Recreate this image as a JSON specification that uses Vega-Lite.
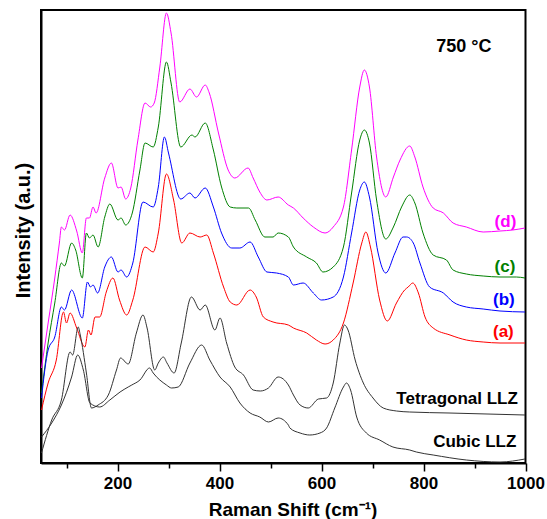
{
  "$schema": "https://vega.github.io/schema/vega-lite/v6.json",
  "width": 484.5,
  "height": 453,
  "autosize": {"type": "none"},
  "padding": {"left": 41, "top": 10, "right": 21.5, "bottom": 56},
  "background": "white",
  "config": {"view": {"stroke": "black", "strokeWidth": 2}, "font": "Liberation Sans"},
  "datasets": {
    "spectra": [
      {"s":"d","x":51,"y":95},{"s":"d","x":64,"y":140},{"s":"d","x":77,"y":185},{"s":"d","x":86,"y":220},{"s":"d","x":90,"y":236},{"s":"d","x":96,"y":233},{"s":"d","x":107,"y":248},{"s":"d","x":120,"y":232},{"s":"d","x":131,"y":210},{"s":"d","x":139,"y":245},{"s":"d","x":145,"y":245},{"s":"d","x":152,"y":256},{"s":"d","x":158,"y":250},{"s":"d","x":175,"y":285},{"s":"d","x":188,"y":300},{"s":"d","x":201,"y":275},{"s":"d","x":207,"y":276},{"s":"d","x":216,"y":264},{"s":"d","x":226,"y":275},{"s":"d","x":240,"y":323},{"s":"d","x":254,"y":360},{"s":"d","x":265,"y":356},{"s":"d","x":272,"y":360},{"s":"d","x":283,"y":396},{"s":"d","x":296,"y":450},{"s":"d","x":305,"y":430},{"s":"d","x":322,"y":361},{"s":"d","x":342,"y":374},{"s":"d","x":355,"y":366},{"s":"d","x":372,"y":378},{"s":"d","x":380,"y":370},{"s":"d","x":398,"y":330},{"s":"d","x":417,"y":293},{"s":"d","x":430,"y":285},{"s":"d","x":456,"y":295},{"s":"d","x":466,"y":285},{"s":"d","x":479,"y":271},{"s":"d","x":493,"y":263},{"s":"d","x":515,"y":266},{"s":"d","x":535,"y":258},{"s":"d","x":545,"y":255},{"s":"d","x":564,"y":245},{"s":"d","x":584,"y":236},{"s":"d","x":607,"y":230},{"s":"d","x":623,"y":236},{"s":"d","x":643,"y":256},{"s":"d","x":659,"y":313},{"s":"d","x":675,"y":376},{"s":"d","x":684,"y":393},{"s":"d","x":694,"y":376},{"s":"d","x":708,"y":306},{"s":"d","x":726,"y":266},{"s":"d","x":741,"y":286},{"s":"d","x":754,"y":303},{"s":"d","x":773,"y":317},{"s":"d","x":783,"y":306},{"s":"d","x":799,"y":276},{"s":"d","x":819,"y":255},{"s":"d","x":839,"y":250},{"s":"d","x":858,"y":240},{"s":"d","x":884,"y":236},{"s":"d","x":917,"y":231},{"s":"d","x":950,"y":232},{"s":"d","x":975,"y":233},{"s":"d","x":999,"y":235},
      {"s":"c","x":51,"y":70},{"s":"c","x":64,"y":120},{"s":"c","x":77,"y":160},{"s":"c","x":90,"y":200},{"s":"c","x":96,"y":197},{"s":"c","x":110,"y":220},{"s":"c","x":118,"y":213},{"s":"c","x":131,"y":185},{"s":"c","x":139,"y":230},{"s":"c","x":145,"y":225},{"s":"c","x":152,"y":228},{"s":"c","x":162,"y":216},{"s":"c","x":175,"y":246},{"s":"c","x":185,"y":259},{"s":"c","x":201,"y":243},{"s":"c","x":207,"y":245},{"s":"c","x":216,"y":238},{"s":"c","x":229,"y":250},{"s":"c","x":244,"y":293},{"s":"c","x":254,"y":320},{"s":"c","x":270,"y":316},{"s":"c","x":280,"y":336},{"s":"c","x":296,"y":401},{"s":"c","x":305,"y":380},{"s":"c","x":324,"y":316},{"s":"c","x":346,"y":328},{"s":"c","x":352,"y":326},{"s":"c","x":372,"y":340},{"s":"c","x":388,"y":313},{"s":"c","x":404,"y":276},{"s":"c","x":421,"y":256},{"s":"c","x":434,"y":255},{"s":"c","x":457,"y":255},{"s":"c","x":470,"y":243},{"s":"c","x":489,"y":226},{"s":"c","x":505,"y":226},{"s":"c","x":515,"y":230},{"s":"c","x":535,"y":226},{"s":"c","x":545,"y":216},{"s":"c","x":571,"y":206},{"s":"c","x":590,"y":200},{"s":"c","x":603,"y":191},{"s":"c","x":623,"y":196},{"s":"c","x":643,"y":216},{"s":"c","x":659,"y":270},{"s":"c","x":675,"y":323},{"s":"c","x":684,"y":333},{"s":"c","x":694,"y":320},{"s":"c","x":708,"y":263},{"s":"c","x":726,"y":224},{"s":"c","x":741,"y":236},{"s":"c","x":757,"y":256},{"s":"c","x":773,"y":268},{"s":"c","x":783,"y":260},{"s":"c","x":799,"y":230},{"s":"c","x":819,"y":208},{"s":"c","x":845,"y":203},{"s":"c","x":858,"y":193},{"s":"c","x":884,"y":189},{"s":"c","x":917,"y":187},{"s":"c","x":950,"y":186},{"s":"c","x":982,"y":186},{"s":"c","x":999,"y":185},
      {"s":"b","x":51,"y":65},{"s":"b","x":64,"y":113},{"s":"b","x":77,"y":126},{"s":"b","x":90,"y":156},{"s":"b","x":96,"y":153},{"s":"b","x":110,"y":173},{"s":"b","x":131,"y":145},{"s":"b","x":141,"y":181},{"s":"b","x":147,"y":176},{"s":"b","x":152,"y":178},{"s":"b","x":161,"y":170},{"s":"b","x":175,"y":196},{"s":"b","x":188,"y":206},{"s":"b","x":201,"y":191},{"s":"b","x":207,"y":193},{"s":"b","x":218,"y":186},{"s":"b","x":230,"y":200},{"s":"b","x":250,"y":261},{"s":"b","x":270,"y":256},{"s":"b","x":280,"y":276},{"s":"b","x":292,"y":326},{"s":"b","x":300,"y":310},{"s":"b","x":324,"y":264},{"s":"b","x":342,"y":270},{"s":"b","x":352,"y":265},{"s":"b","x":372,"y":275},{"s":"b","x":388,"y":256},{"s":"b","x":404,"y":230},{"s":"b","x":424,"y":215},{"s":"b","x":440,"y":215},{"s":"b","x":460,"y":221},{"s":"b","x":476,"y":206},{"s":"b","x":493,"y":191},{"s":"b","x":512,"y":190},{"s":"b","x":535,"y":186},{"s":"b","x":545,"y":178},{"s":"b","x":564,"y":180},{"s":"b","x":584,"y":170},{"s":"b","x":600,"y":163},{"s":"b","x":623,"y":166},{"s":"b","x":643,"y":186},{"s":"b","x":659,"y":230},{"s":"b","x":675,"y":273},{"s":"b","x":684,"y":281},{"s":"b","x":694,"y":266},{"s":"b","x":711,"y":210},{"s":"b","x":726,"y":190},{"s":"b","x":744,"y":210},{"s":"b","x":760,"y":226},{"s":"b","x":767,"y":226},{"s":"b","x":780,"y":220},{"s":"b","x":793,"y":200},{"s":"b","x":812,"y":176},{"s":"b","x":839,"y":170},{"s":"b","x":858,"y":161},{"s":"b","x":884,"y":156},{"s":"b","x":917,"y":154},{"s":"b","x":950,"y":152},{"s":"b","x":999,"y":151},
      {"s":"a","x":51,"y":53},{"s":"a","x":64,"y":80},{"s":"a","x":80,"y":103},{"s":"a","x":94,"y":151},{"s":"a","x":100,"y":140},{"s":"a","x":107,"y":150},{"s":"a","x":120,"y":135},{"s":"a","x":136,"y":116},{"s":"a","x":143,"y":133},{"s":"a","x":148,"y":128},{"s":"a","x":156,"y":146},{"s":"a","x":165,"y":146},{"s":"a","x":178,"y":171},{"s":"a","x":191,"y":185},{"s":"a","x":204,"y":163},{"s":"a","x":218,"y":148},{"s":"a","x":230,"y":163},{"s":"a","x":254,"y":216},{"s":"a","x":270,"y":211},{"s":"a","x":280,"y":230},{"s":"a","x":296,"y":289},{"s":"a","x":310,"y":263},{"s":"a","x":326,"y":220},{"s":"a","x":342,"y":230},{"s":"a","x":362,"y":226},{"s":"a","x":375,"y":228},{"s":"a","x":388,"y":210},{"s":"a","x":408,"y":176},{"s":"a","x":421,"y":161},{"s":"a","x":434,"y":158},{"s":"a","x":460,"y":173},{"s":"a","x":472,"y":166},{"s":"a","x":486,"y":146},{"s":"a","x":505,"y":141},{"s":"a","x":535,"y":138},{"s":"a","x":545,"y":135},{"s":"a","x":571,"y":130},{"s":"a","x":590,"y":123},{"s":"a","x":607,"y":119},{"s":"a","x":623,"y":123},{"s":"a","x":643,"y":140},{"s":"a","x":662,"y":180},{"s":"a","x":679,"y":220},{"s":"a","x":687,"y":231},{"s":"a","x":696,"y":216},{"s":"a","x":714,"y":163},{"s":"a","x":729,"y":142},{"s":"a","x":747,"y":160},{"s":"a","x":763,"y":173},{"s":"a","x":770,"y":176},{"s":"a","x":779,"y":180},{"s":"a","x":790,"y":170},{"s":"a","x":803,"y":146},{"s":"a","x":819,"y":135},{"s":"a","x":852,"y":128},{"s":"a","x":884,"y":123},{"s":"a","x":917,"y":121},{"s":"a","x":950,"y":120},{"s":"a","x":999,"y":120},
      {"s":"tet","x":51,"y":10},{"s":"tet","x":71,"y":43},{"s":"tet","x":90,"y":63},{"s":"tet","x":107,"y":111},{"s":"tet","x":112,"y":108},{"s":"tet","x":123,"y":136},{"s":"tet","x":127,"y":128},{"s":"tet","x":139,"y":90},{"s":"tet","x":149,"y":55},{"s":"tet","x":162,"y":58},{"s":"tet","x":182,"y":68},{"s":"tet","x":198,"y":93},{"s":"tet","x":206,"y":105},{"s":"tet","x":221,"y":99},{"s":"tet","x":237,"y":130},{"s":"tet","x":250,"y":148},{"s":"tet","x":258,"y":135},{"s":"tet","x":273,"y":93},{"s":"tet","x":280,"y":100},{"s":"tet","x":290,"y":106},{"s":"tet","x":297,"y":100},{"s":"tet","x":311,"y":90},{"s":"tet","x":325,"y":120},{"s":"tet","x":345,"y":166},{"s":"tet","x":362,"y":153},{"s":"tet","x":372,"y":158},{"s":"tet","x":391,"y":133},{"s":"tet","x":401,"y":145},{"s":"tet","x":414,"y":120},{"s":"tet","x":430,"y":96},{"s":"tet","x":447,"y":88},{"s":"tet","x":466,"y":73},{"s":"tet","x":480,"y":72},{"s":"tet","x":496,"y":75},{"s":"tet","x":515,"y":86},{"s":"tet","x":535,"y":78},{"s":"tet","x":545,"y":68},{"s":"tet","x":558,"y":58},{"s":"tet","x":574,"y":55},{"s":"tet","x":594,"y":64},{"s":"tet","x":610,"y":65},{"s":"tet","x":623,"y":80},{"s":"tet","x":636,"y":120},{"s":"tet","x":645,"y":138},{"s":"tet","x":652,"y":133},{"s":"tet","x":666,"y":103},{"s":"tet","x":682,"y":80},{"s":"tet","x":701,"y":65},{"s":"tet","x":721,"y":55},{"s":"tet","x":747,"y":52},{"s":"tet","x":773,"y":51},{"s":"tet","x":850,"y":50},{"s":"tet","x":999,"y":48},
      {"s":"cub","x":51,"y":26},{"s":"cub","x":71,"y":40},{"s":"cub","x":90,"y":58},{"s":"cub","x":110,"y":86},{"s":"cub","x":122,"y":108},{"s":"cub","x":133,"y":93},{"s":"cub","x":146,"y":60},{"s":"cub","x":165,"y":56},{"s":"cub","x":185,"y":63},{"s":"cub","x":205,"y":71},{"s":"cub","x":221,"y":76},{"s":"cub","x":228,"y":78},{"s":"cub","x":244,"y":83},{"s":"cub","x":263,"y":95},{"s":"cub","x":270,"y":90},{"s":"cub","x":296,"y":78},{"s":"cub","x":306,"y":75},{"s":"cub","x":319,"y":76},{"s":"cub","x":342,"y":100},{"s":"cub","x":365,"y":118},{"s":"cub","x":381,"y":103},{"s":"cub","x":401,"y":86},{"s":"cub","x":421,"y":76},{"s":"cub","x":440,"y":60},{"s":"cub","x":460,"y":50},{"s":"cub","x":479,"y":46},{"s":"cub","x":496,"y":41},{"s":"cub","x":515,"y":45},{"s":"cub","x":535,"y":38},{"s":"cub","x":538,"y":35},{"s":"cub","x":558,"y":30},{"s":"cub","x":577,"y":28},{"s":"cub","x":597,"y":30},{"s":"cub","x":610,"y":35},{"s":"cub","x":626,"y":55},{"s":"cub","x":643,"y":76},{"s":"cub","x":649,"y":80},{"s":"cub","x":657,"y":73},{"s":"cub","x":669,"y":46},{"s":"cub","x":688,"y":30},{"s":"cub","x":714,"y":23},{"s":"cub","x":740,"y":16},{"s":"cub","x":773,"y":13},{"s":"cub","x":786,"y":11},{"s":"cub","x":819,"y":8},{"s":"cub","x":884,"y":3},{"s":"cub","x":950,"y":1},{"s":"cub","x":999,"y":4}
    ],
    "labels": [
      {"k":"d","t":"(d)","x":982,"y":236},
      {"k":"c","t":"(c)","x":980,"y":191},
      {"k":"b","t":"(b)","x":979,"y":158},
      {"k":"a","t":"(a)","x":977,"y":126},
      {"k":"tet","t":"Tetragonal LLZ","x":985,"y":59},
      {"k":"cub","t":"Cubic LLZ","x":982,"y":16}
    ],
    "note": [
      {"t":"750 °C","x":825,"y":411}
    ]
  },
  "layer": [
    {
      "data": {"name": "spectra"},
      "mark": {"type": "line", "strokeWidth": 1, "interpolate": "monotone", "clip": true},
      "encoding": {
        "x": {
          "field": "x", "type": "quantitative",
          "scale": {"domain": [50, 1000], "nice": false, "zero": false},
          "axis": {
            "title": "Raman Shift (cm⁻¹)",
            "values": [100, 200, 300, 400, 500, 600, 700, 800, 900, 1000],
            "labelExpr": "datum.value % 200 === 0 ? datum.label : ''",
            "format": "d",
            "grid": false,
            "domainColor": "black", "domainWidth": 2,
            "tickColor": "black", "tickWidth": 1.5,
            "tickSize": {"condition": {"test": "datum.value % 200 === 0", "value": 8}, "value": 5},
            "labelFont": "Liberation Sans", "labelFontWeight": "bold", "labelFontSize": 17, "labelColor": "black",
            "labelPadding": 4, "labelFlush": false, "labelOverlap": false,
            "titleFont": "Liberation Sans", "titleFontWeight": "bold", "titleFontSize": 19, "titleColor": "black",
            "titleX": 251.5, "titleY": 52, "titleBaseline": "alphabetic"
          }
        },
        "y": {
          "field": "y", "type": "quantitative",
          "scale": {"domain": [0, 453], "nice": false},
          "axis": {
            "title": "Intensity (a.u.)",
            "ticks": false, "labels": false, "grid": false,
            "domainColor": "black", "domainWidth": 2,
            "titleFont": "Liberation Sans", "titleFontWeight": "bold", "titleFontSize": 20, "titleColor": "black",
            "titlePadding": 8, "titleY": 220
          }
        },
        "color": {
          "field": "s", "type": "nominal",
          "scale": {"domain": ["d", "c", "b", "a", "tet", "cub"], "range": ["#FF00FF", "#008000", "#0000FF", "#FF0000", "#333333", "#333333"]},
          "legend": null
        }
      }
    },
    {
      "data": {"name": "labels"},
      "mark": {"type": "text", "align": "right", "baseline": "alphabetic", "font": "Liberation Sans", "fontWeight": "bold", "fontSize": 17},
      "encoding": {
        "x": {"field": "x", "type": "quantitative"},
        "y": {"field": "y", "type": "quantitative"},
        "text": {"field": "t"},
        "color": {
          "field": "k", "type": "nominal",
          "scale": {"domain": ["d", "c", "b", "a", "tet", "cub"], "range": ["#FF00FF", "#008000", "#0000FF", "#FF0000", "#000000", "#000000"]},
          "legend": null
        }
      }
    },
    {
      "data": {"name": "note"},
      "mark": {"type": "text", "align": "left", "baseline": "alphabetic", "font": "Liberation Sans", "fontWeight": "bold", "fontSize": 18, "color": "black"},
      "encoding": {
        "x": {"field": "x", "type": "quantitative"},
        "y": {"field": "y", "type": "quantitative"},
        "text": {"field": "t"}
      }
    }
  ],
  "resolve": {"scale": {"color": "independent"}}
}
